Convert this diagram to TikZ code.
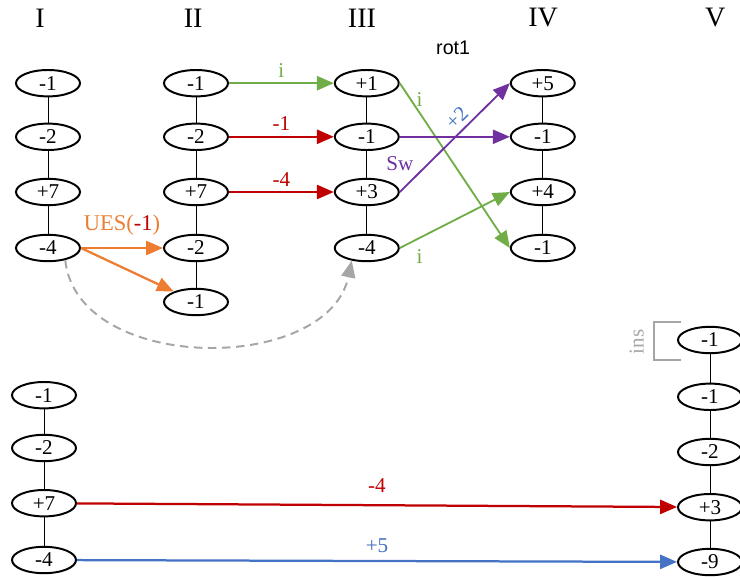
\documentclass[tikz,border=0pt]{standalone}
\usepackage{xcolor}
\usepackage{fontspec}
\setmainfont{Liberation Serif}
\newfontfamily\rotfont{Liberation Sans}
\usepackage{tikz}
\usetikzlibrary{shapes.geometric, arrows.meta, positioning, calc}

\definecolor{mgreen}{HTML}{70AD47}
\definecolor{mred}{HTML}{C00000}
\definecolor{morange}{HTML}{ED7D31}
\definecolor{mblue}{HTML}{4472C4}
\definecolor{mpurple}{HTML}{7030A0}
\definecolor{mgray}{HTML}{A6A6A6}

\begin{document}
\begin{tikzpicture}[
            val_box/.style={ellipse, draw=black, line width=1.4pt, minimum width=1.6cm,
            minimum height=0.66cm, inner sep=0pt, font=\fontsize{15}{17}\selectfont},
            head/.style={font=\fontsize{20}{24}\selectfont},
            link/.style={black, line width=0.6pt},
            move/.style={-{Triangle[length=12pt, width=10pt]}, line width=1.6pt},
            tag/.style={font=\fontsize{15}{17}\selectfont}
        ]
            \useasboundingbox (0,0) rectangle (18.5,-14.4);

            % Stage headers
            \node[head] (hI)   at (1.0,   -0.45) {I};
            \node[head] (hII)  at (4.83,  -0.45) {II};
            \node[head] (hIII) at (9.05,  -0.45) {III};
            \node[head] (hIV)  at (13.58, -0.45) {IV};
            \node[head] (hV)   at (17.88, -0.45) {V};
            \node[font=\rotfont\fontsize{14}{16}\selectfont] (rot) at (11.33, -1.2) {rot1};

            % Stage I
            \node[val_box] (a1) at (1.2, -2.08) {-1};
            \node[val_box] (a2) at (1.2, -3.42) {-2};
            \node[val_box] (a3) at (1.2, -4.8)  {+7};
            \node[val_box] (a4) at (1.2, -6.2)  {-4};

            % Stage II
            \node[val_box] (b1) at (4.9, -2.08) {-1};
            \node[val_box] (b2) at (4.9, -3.42) {-2};
            \node[val_box] (b3) at (4.9, -4.8)  {+7};
            \node[val_box] (b4) at (4.9, -6.2)  {-2};
            \node[val_box] (b5) at (4.9, -7.55) {-1};

            % Stage III
            \node[val_box] (c1) at (9.17, -2.08) {+1};
            \node[val_box] (c2) at (9.17, -3.42) {-1};
            \node[val_box] (c3) at (9.17, -4.8)  {+3};
            \node[val_box] (c4) at (9.17, -6.2)  {-4};

            % Stage IV
            \node[val_box] (d1) at (13.57, -2.08) {+5};
            \node[val_box] (d2) at (13.57, -3.42) {-1};
            \node[val_box] (d3) at (13.57, -4.8)  {+4};
            \node[val_box] (d4) at (13.57, -6.2)  {-1};

            % Lower row: stage I again and stage V
            \node[val_box] (e1) at (1.1, -9.88)  {-1};
            \node[val_box] (e2) at (1.1, -11.2)  {-2};
            \node[val_box] (e3) at (1.1, -12.58) {+7};
            \node[val_box] (e4) at (1.1, -14.0)  {-4};

            \node[val_box] (f1) at (17.75, -8.5)   {-1};
            \node[val_box] (f2) at (17.75, -9.92)  {-1};
            \node[val_box] (f3) at (17.75, -11.3)  {-2};
            \node[val_box] (f4) at (17.75, -12.68) {+3};
            \node[val_box] (f5) at (17.75, -14.05) {-9};

            % Chains
            \foreach \u/\w in {a1/a2,a2/a3,a3/a4, b1/b2,b2/b3,b3/b4,b4/b5,
                               c1/c2,c2/c3,c3/c4, d1/d2,d2/d3,d3/d4,
                               e1/e2,e2/e3,e3/e4, f1/f2,f2/f3,f3/f4,f4/f5} {
                \draw[link] (\u) -- (\w);
            }

            % I -> II
            \draw[move, morange] (a4) -- (b4)
                node[midway, above=5pt, tag, font=\fontsize{16}{18}\selectfont]
                {UES(\textcolor{mred}{-1})};
            \draw[move, morange] (a4.east) -- (b5);
            \draw[-{Triangle[length=12pt, width=10pt]}, mgray, line width=1.4pt,
                dash pattern=on 6pt off 4pt]
                (a4.-35) .. controls +(0.3,-2.85) and +(-0.6,-2.85) .. (c4.-140);

            % II -> III
            \draw[move, mgreen] (b1) -- (c1) node[midway, above, tag] {i};
            \draw[move, mred]   (b2) -- (c2) node[midway, above, tag] {-1};
            \draw[move, mred]   (b3) -- (c3) node[midway, above, tag] {-4};

            % III -> IV
            \draw[move, mgreen, line width=1.3pt] (c1.east) -- (d4.west)
                node[pos=0.1, right=3pt, tag, inner sep=0.5pt] {i};
            \draw[move, mpurple, line width=1.3pt] (c2) -- (d2)
                node[pos=0, below=10pt, tag, text=mpurple] {Sw};
            \draw[move, mpurple, line width=1.3pt] (c3.east) -- (d1.west)
                node[pos=0.6, sloped, above=3pt, tag, inner sep=0.5pt, text=mblue] {+2};
            \draw[move, mgreen, line width=1.3pt] (c4.east) -- (d3.west)
                node[pos=0.18, below=4pt, tag] {i};

            % I -> V
            \draw[move, mred]  (e3) -- (f4) node[midway, above=5pt, tag] {-4};
            \draw[move, mblue] (e4) -- (f5) node[midway, above=2pt, tag] {+5};

            % Insertion mark
            \draw[mgray, line width=1.4pt] ($(f1.west)+(0.1,0.45)$) -- ++(-0.68,0)
                -- ++(0,-0.95) -- ++(0.68,0);
            \node[tag, text=mgray, rotate=90] (ins) at (15.92, -8.55) {ins};

        \end{tikzpicture}
\end{document}
